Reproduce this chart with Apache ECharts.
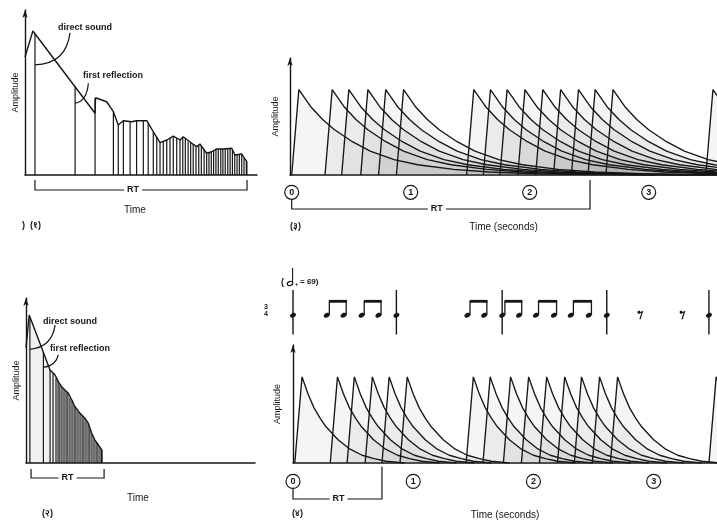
<!DOCTYPE html>
<html>
<head>
<meta charset="utf-8">
<script src="https://cdn.jsdelivr.net/npm/echarts@6/dist/echarts.min.js"></script>
<style>
html, body { margin: 0; padding: 0; background: #fff; }
#chart { width: 717px; height: 521px; }
</style>
</head>
<body>
<div id="chart"></div>
<script>
// ---- panel 1 (top left): long reverberation, time and amplitude in arbitrary units (0..100)
var env1Time = [0, 3.4, 30.2, 30.4, 35.2, 38.1, 40.2, 42.4, 46.0, 48.1, 52.5, 55.3, 58.2, 61.1, 63.9, 66.8, 68.2, 71.9, 74.0, 75.4, 78.3, 80.5, 82.6, 85.5, 89.1, 90.5, 93.4, 95.6, 95.6];
var env1Amp  = [71.5, 87.3, 37.4, 46.8, 44.4, 38.4, 30.3, 32.9, 32.3, 32.9, 32.9, 26.2, 19.6, 21.2, 23.6, 21.2, 23.2, 19.2, 17.2, 18.8, 13.2, 14.1, 15.8, 15.8, 16.2, 12.1, 12.7, 8.1, 0];
var refl1Time = [4.3, 21.6, 30.2, 38.1, 40.2, 42.4, 45.3, 48.1, 51.0, 53.1, 55.3, 56.8, 58.2, 59.6, 61.1, 62.5, 63.9, 65.4, 66.8, 68.0, 69.1, 70.3, 71.4, 72.5, 73.7, 74.9, 76.0, 77.2, 78.3, 79.3, 80.3, 81.3, 82.3, 83.3, 84.4, 85.3, 86.3, 87.4, 88.4, 89.4, 90.4, 91.4, 92.4, 93.4, 94.4, 95.4];
var refl1Amp  = [85.6, 53.5, 46.7, 38.4, 30.3, 32.9, 32.4, 32.9, 32.9, 31.3, 26.2, 23.0, 19.6, 20.4, 21.2, 22.4, 23.6, 22.4, 21.2, 23.0, 22.1, 20.3, 19.4, 18.5, 17.3, 18.2, 17.6, 15.2, 13.2, 13.6, 14.1, 14.8, 15.8, 15.8, 15.8, 15.8, 15.9, 16.0, 16.1, 15.2, 12.1, 12.4, 12.6, 12.7, 10.3, 8.3];
var rt1 = [4.3, 95.7];

// ---- panel 3 (bottom left): short reverberation
var env3Time = [0, 1.4, 10.5, 12.7, 14.1, 15.6, 17.0, 18.5, 20.0, 21.4, 23.6, 25.8, 27.2, 28.7, 30.1, 31.6, 33.1, 33.1];
var env3Amp  = [70, 89.7, 56.4, 53.3, 49.3, 46.2, 44.2, 42.2, 38.2, 34.1, 30.1, 27.1, 24.1, 18.0, 13.9, 10.9, 7.9, 0];
var refl3Time = [1.7, 7.6, 10.5, 11.8, 13.1, 14.0, 14.8, 15.7, 16.6, 17.5, 18.3, 19.2, 20.1, 21.0, 21.8, 22.7, 23.6, 24.5, 25.3, 26.2, 27.1, 27.9, 28.8, 29.7, 30.6, 31.4, 32.3, 33.1];
var refl3Amp  = [88.5, 67.2, 56.4, 54.5, 51.5, 49.7, 47.6, 46.1, 44.8, 43.6, 42.4, 39.4, 37.9, 35.2, 33.3, 31.2, 30.1, 29.1, 27.6, 26.1, 24.2, 20.6, 17.6, 14.8, 13.0, 11.2, 9.4, 7.9];
var rt3 = [2.2, 34.1];

// ---- panel 2 (top right): note peaks (seconds) with a long decay
var notes2 = [0.06, 0.34, 0.48, 0.64, 0.79, 0.94, 1.53, 1.67, 1.81, 1.96, 2.11, 2.26, 2.41, 2.55, 2.70, 3.54];
var decayLongDt    = [0, 0.1, 0.2, 0.3, 0.45, 0.6, 0.8, 1.0, 1.3, 1.6, 2.0, 2.5, 3.0];
var decayLongLevel = [1, 0.8, 0.65, 0.53, 0.39, 0.28, 0.18, 0.12, 0.065, 0.035, 0.015, 0.005, 0];
var rt2 = [0, 2.507];

// ---- panel 4 (bottom right): same notes with a short decay
var notes4 = [0.075, 0.37, 0.51, 0.66, 0.80, 0.95, 1.50, 1.64, 1.81, 1.96, 2.11, 2.26, 2.40, 2.55, 2.70, 3.52];
var decayShortDt    = [0, 0.05, 0.1, 0.15, 0.2, 0.3, 0.4, 0.5, 0.6, 0.7, 0.85];
var decayShortLevel = [1, 0.8, 0.64, 0.52, 0.42, 0.27, 0.16, 0.09, 0.05, 0.02, 0];
var rt4 = [0, 0.74];
var peakLevel = 0.73;
var secondTicks = [0, 1, 2, 3];

// ---- score above panel 4 (seconds)
var barLines = [0, 0.86, 1.74, 2.61, 3.46];
var barNotes = [0, 0.86, 2.61, 3.46];
var beamPairs = [[0.28, 0.42], [0.57, 0.71], [1.45, 1.59], [1.74, 1.88], [2.02, 2.17], [2.31, 2.46]];
var rests = [2.89, 3.24];

var INK = '#161616';
var FONT = '"Liberation Sans", Arial, sans-serif';
var SHADE = 'rgba(90,90,90,0.085)';

function zip(a, b) {
    return a.map(function (v, i) { return [v, b[i]]; });
}

function noteCurve(t, rise, dts, levels) {
    var pts = [[Math.max(0, t - rise), 0]];
    dts.forEach(function (d, i) { pts.push([t + d, peakLevel * levels[i]]); });
    return pts;
}

function xAx(grid, min, max, name, gap, pad, hidden) {
    return {
        type: 'value', gridIndex: grid, min: min, max: max, show: !hidden,
        name: name, nameLocation: 'middle', nameGap: gap,
        nameTextStyle: { color: INK, fontFamily: FONT, fontSize: 10, padding: pad || 0 },
        axisLine: { onZero: false, lineStyle: { color: INK, width: 1.5 } },
        axisTick: { show: false }, axisLabel: { show: false }, splitLine: { show: false }
    };
}

function yAx(grid, max, gap, hidden) {
    return {
        type: 'value', gridIndex: grid, min: 0, max: max, show: !hidden,
        name: 'Amplitude', nameLocation: 'middle', nameGap: gap, nameRotate: 90,
        nameTextStyle: { color: INK, fontFamily: FONT, fontSize: 9 },
        axisLine: { onZero: false, symbol: ['none', 'arrow'], symbolSize: [4, 8], lineStyle: { color: INK, width: 1.4 } },
        axisTick: { show: false }, axisLabel: { show: false }, splitLine: { show: false }
    };
}

function stemRender(params, api) {
    var p0 = api.coord([api.value(0), 0]);
    var p1 = api.coord([api.value(0), api.value(1)]);
    return { type: 'line', shape: { x1: p0[0], y1: p0[1], x2: p1[0], y2: p1[1] }, style: { stroke: INK, lineWidth: 1.2 } };
}

function bracketRender(leftTop, drop, rightTop, shift) {
    return function (params, api) {
        var a = api.coord([api.value(0), 0]);
        var b = api.coord([api.value(1), 0]);
        var yb = a[1] + drop;
        return {
            type: 'group', children: [
                { type: 'polyline', shape: { points: [[a[0], a[1] + leftTop], [a[0], yb], [b[0], yb], [b[0], a[1] + rightTop]] },
                  style: { stroke: INK, lineWidth: 1.2, fill: null } },
                { type: 'text', x: (a[0] + b[0]) / 2 + shift, y: yb,
                  style: { text: 'RT', fill: INK, font: 'bold 9px ' + FONT, align: 'center', verticalAlign: 'middle',
                           backgroundColor: '#fff', padding: [0, 3] } }
            ]
        };
    };
}

function circleRender(dy) {
    return function (params, api) {
        var p = api.coord([api.value(0), 0]);
        return {
            type: 'group', children: [
                { type: 'circle', shape: { cx: p[0], cy: p[1] + dy, r: 7 }, style: { stroke: INK, lineWidth: 1.2, fill: '#fff' } },
                { type: 'text', x: p[0], y: p[1] + dy,
                  style: { text: String(api.value(0)), fill: INK, font: 'bold 9px ' + FONT, align: 'center', verticalAlign: 'middle' } }
            ]
        };
    };
}

// leader annotations: [start, control, end] in data units, text left-anchored at "at"
function leaderRender(list) {
    return function (params, api) {
        var L = list[params.dataIndex];
        var s = api.coord(L.path[0]), c = api.coord(L.path[1]), e = api.coord(L.path[2]), t = api.coord(L.at);
        return {
            type: 'group', children: [
                { type: 'bezierCurve', shape: { x1: s[0], y1: s[1], cpx1: c[0], cpy1: c[1], x2: e[0], y2: e[1] },
                  style: { stroke: INK, lineWidth: 1.2, fill: null } },
                { type: 'text', x: t[0], y: t[1],
                  style: { text: L.text, fill: INK, font: 'bold 9px ' + FONT, align: 'left', verticalAlign: 'middle' } }
            ]
        };
    };
}

var leaders1 = [
    { text: 'direct sound', at: [14.2, 89.1], path: [[19.4, 86.1], [17.7, 67.3], [4.3, 66.7]] },
    { text: 'first reflection', at: [25, 60], path: [[27.3, 55.6], [26.7, 44.8], [21.6, 43.5]] }
];
var leaders3 = [
    { text: 'direct sound', at: [7.4, 85.5], path: [[12.7, 83.6], [11.4, 70.3], [1.7, 68.9]] },
    { text: 'first reflection', at: [10.5, 69.1], path: [[14.1, 65.5], [13.1, 58.8], [7.6, 58.0]] }
];

var series = [];

// left panels
series.push({ type: 'line', xAxisIndex: 0, yAxisIndex: 0, data: zip(env1Time, env1Amp), symbol: 'none',
    lineStyle: { color: INK, width: 1.4 }, z: 3 });
series.push({ type: 'custom', xAxisIndex: 0, yAxisIndex: 0, data: zip(refl1Time, refl1Amp), renderItem: stemRender });
series.push({ type: 'custom', xAxisIndex: 0, yAxisIndex: 0, data: [rt1], renderItem: bracketRender(5, 15, 5, -8) });
series.push({ type: 'custom', xAxisIndex: 0, yAxisIndex: 0, data: [[0], [1]], renderItem: leaderRender(leaders1) });

series.push({ type: 'line', xAxisIndex: 2, yAxisIndex: 2, data: zip(env3Time, env3Amp), symbol: 'none',
    lineStyle: { color: INK, width: 1.4 }, areaStyle: { color: 'rgba(90,90,90,0.12)' }, z: 3 });
series.push({ type: 'custom', xAxisIndex: 2, yAxisIndex: 2, data: zip(refl3Time, refl3Amp), renderItem: stemRender });
series.push({ type: 'custom', xAxisIndex: 2, yAxisIndex: 2, data: [rt3], renderItem: bracketRender(6, 15, 6, 0) });
series.push({ type: 'custom', xAxisIndex: 2, yAxisIndex: 2, data: [[0], [1]], renderItem: leaderRender(leaders3) });

// right panels: one decaying note per series
notes2.forEach(function (t) {
    series.push({ type: 'line', xAxisIndex: 1, yAxisIndex: 1, data: noteCurve(t, 0.06, decayLongDt, decayLongLevel),
        symbol: 'none', clip: true, lineStyle: { color: INK, width: 1.35 }, areaStyle: { color: SHADE } });
});
notes4.forEach(function (t) {
    series.push({ type: 'line', xAxisIndex: 3, yAxisIndex: 3, data: noteCurve(t, 0.06, decayShortDt, decayShortLevel),
        symbol: 'none', clip: true, lineStyle: { color: INK, width: 1.35 }, areaStyle: { color: SHADE } });
});
series.push({ type: 'custom', xAxisIndex: 1, yAxisIndex: 1, data: secondTicks.map(function (v) { return [v]; }), renderItem: circleRender(17.3) });
series.push({ type: 'custom', xAxisIndex: 3, yAxisIndex: 3, data: secondTicks.map(function (v) { return [v]; }), renderItem: circleRender(18.4) });
series.push({ type: 'custom', xAxisIndex: 1, yAxisIndex: 1, data: [rt2], renderItem: bracketRender(24.3, 34, 5, -4) });
series.push({ type: 'custom', xAxisIndex: 3, yAxisIndex: 3, data: [rt4], renderItem: bracketRender(25.4, 36, 3.4, 1) });

// score
var HEAD_Y = 0.45, BEAM_Y = 0.72;
function headShape(p) {
    return { type: 'ellipse', shape: { cx: p[0], cy: p[1], rx: 3.1, ry: 2.3 }, rotation: 0.4, originX: p[0], originY: p[1],
             style: { fill: INK } };
}
series.push({ type: 'custom', xAxisIndex: 4, yAxisIndex: 4, data: barLines.map(function (v) { return [v]; }),
    renderItem: function (params, api) {
        var a = api.coord([api.value(0), 0.91]), b = api.coord([api.value(0), 0.1]);
        return { type: 'line', shape: { x1: a[0], y1: a[1], x2: b[0], y2: b[1] }, style: { stroke: INK, lineWidth: 1.4 } };
    } });
series.push({ type: 'custom', xAxisIndex: 4, yAxisIndex: 4, data: barNotes.map(function (v) { return [v]; }),
    renderItem: function (params, api) { return headShape(api.coord([api.value(0), HEAD_Y])); } });
series.push({ type: 'custom', xAxisIndex: 4, yAxisIndex: 4, data: beamPairs,
    renderItem: function (params, api) {
        var h1 = api.coord([api.value(0), HEAD_Y]), h2 = api.coord([api.value(1), HEAD_Y]);
        var by = api.coord([api.value(0), BEAM_Y])[1];
        var x1 = h1[0] + 2.7, x2 = h2[0] + 2.7;
        return { type: 'group', children: [
            headShape(h1), headShape(h2),
            { type: 'line', shape: { x1: x1, y1: h1[1], x2: x1, y2: by }, style: { stroke: INK, lineWidth: 1.3 } },
            { type: 'line', shape: { x1: x2, y1: h2[1], x2: x2, y2: by }, style: { stroke: INK, lineWidth: 1.3 } },
            { type: 'rect', shape: { x: x1, y: by - 0.5, width: x2 - x1 + 0.6, height: 2.8 }, style: { fill: INK } }
        ] };
    } });
series.push({ type: 'custom', xAxisIndex: 4, yAxisIndex: 4, data: rests.map(function (v) { return [v]; }),
    renderItem: function (params, api) {
        var p = api.coord([api.value(0), HEAD_Y]);
        return { type: 'group', children: [
            { type: 'circle', shape: { cx: p[0] - 1.5, cy: p[1] - 3, r: 1.4 }, style: { fill: INK } },
            { type: 'polyline', shape: { points: [[p[0] - 2, p[1] - 2], [p[0] + 2, p[1] - 3.5], [p[0] - 0.5, p[1] + 4]] },
              style: { stroke: INK, lineWidth: 1.2, fill: null } }
        ] };
    } });

var option = {
    animation: false,
    backgroundColor: '#fff',
    grid: [
        { left: 25, top: 10, width: 232, height: 165 },
        { left: 290, top: 58, width: 427, height: 117 },
        { left: 26, top: 298, width: 229, height: 165 },
        { left: 293, top: 345, width: 424, height: 118 },
        { left: 293, top: 285, width: 424, height: 55 }
    ],
    xAxis: [
        xAx(0, 0, 100, 'Time', 30, [0, 12, 0, 0]),
        xAx(1, -0.0143, 3.574, 'Time (seconds)', 47),
        xAx(2, 0, 100, 'Time', 30, [0, 5, 0, 0]),
        xAx(3, 0, 3.527, 'Time (seconds)', 47),
        xAx(4, 0, 3.527, '', 0, 0, true)
    ],
    yAxis: [
        yAx(0, 100, 5),
        yAx(1, 1, 10),
        yAx(2, 100, 5),
        yAx(3, 1, 11),
        yAx(4, 1, 0, true)
    ],
    graphic: [
        { type: 'text', left: 22, top: 221, style: { text: ')  (१)', fill: INK, font: 'bold 9px ' + FONT } },
        { type: 'text', left: 290, top: 222, style: { text: '(३)', fill: INK, font: 'bold 9px ' + FONT } },
        { type: 'text', left: 42, top: 509, style: { text: '(२)', fill: INK, font: 'bold 9px ' + FONT } },
        { type: 'text', left: 292, top: 509, style: { text: '(४)', fill: INK, font: 'bold 9px ' + FONT } },
        // tempo mark (dotted half = 69)
        { type: 'text', left: 281, top: 278, style: { text: '(', fill: INK, font: 'bold 9px ' + FONT } },
        { type: 'ellipse', shape: { cx: 290, cy: 283.5, rx: 2.8, ry: 2 }, rotation: 0.4, originX: 290, originY: 283.5,
          style: { stroke: INK, lineWidth: 1.2, fill: '#fff' } },
        { type: 'line', shape: { x1: 292.6, y1: 283, x2: 292.6, y2: 268 }, style: { stroke: INK, lineWidth: 1.1 } },
        { type: 'circle', shape: { cx: 296.5, cy: 284.5, r: 0.9 }, style: { fill: INK } },
        { type: 'text', left: 300, top: 278, style: { text: '= 69)', fill: INK, font: 'bold 8px ' + FONT } },
        // time signature
        { type: 'text', left: 264, top: 304, style: { text: '3', fill: INK, font: 'bold 7px ' + FONT } },
        { type: 'text', left: 264, top: 311, style: { text: '4', fill: INK, font: 'bold 7px ' + FONT } }
    ],
    series: series
};

var chart = echarts.init(document.getElementById('chart'));
chart.setOption(option);
</script>
</body>
</html>
